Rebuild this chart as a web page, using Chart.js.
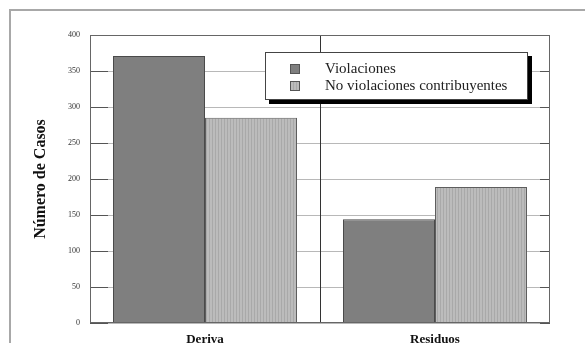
<!DOCTYPE html>
<html>
<head>
<meta charset="utf-8">
<script src="https://cdn.jsdelivr.net/npm/chart.js@4"></script>
<style>
  html, body { margin: 0; padding: 0; background: #fff; }
  #wrap { width: 585px; height: 343px; position: relative; }
</style>
</head>
<body>
<div id="wrap"><canvas id="c" width="585" height="343"></canvas></div>
<script>
// Categories and series
const categories = ['Deriva', 'Residuos'];
const violaciones = [371, 144];
const noViolaciones = [285, 189];
const seriesNames = ['Violaciones', 'No violaciones contribuyentes'];
const yTicks = [0, 50, 100, 150, 200, 250, 300, 350, 400];

const SERIF = '"Liberation Serif", "Times New Roman", serif';

// Light bar fill: fine vertical stripes
function stripePattern() {
  const p = document.createElement('canvas');
  p.width = 3; p.height = 4;
  const g = p.getContext('2d');
  g.fillStyle = '#bcbcbc'; g.fillRect(0, 0, 3, 4);
  g.fillStyle = '#a9a9a9'; g.fillRect(2, 0, 1, 4);
  return g.createPattern(p, 'repeat');
}
const ctx0 = document.getElementById('c').getContext('2d');
const lightFill = stripePattern();

// Outer frame, inner tick marks, middle divider and boxed legend
const decor = {
  id: 'decor',
  beforeDraw(chart) {
    const g = chart.ctx;
    g.save();
    g.strokeStyle = '#a8a8a8';
    g.lineWidth = 2;
    g.beginPath();
    g.moveTo(10, 343); g.lineTo(10, 10); g.lineTo(585, 10);
    g.stroke();
    g.restore();
  },
  afterDatasetsDraw(chart) {
    const g = chart.ctx;
    const a = chart.chartArea;
    const y = chart.scales.y;
    const x = chart.scales.x;
    g.save();
    // tick marks on both sides, pointing inward
    g.strokeStyle = '#555';
    g.lineWidth = 1;
    yTicks.forEach(v => {
      const py = Math.round(y.getPixelForValue(v)) + 0.5;
      g.beginPath();
      g.moveTo(a.left, py); g.lineTo(a.left + 18, py);
      g.moveTo(a.right - 10, py); g.lineTo(a.right, py);
      g.stroke();
    });
    // divider between categories
    const mid = Math.round((x.getPixelForValue(0) + x.getPixelForValue(1)) / 2) + 0.5;
    g.strokeStyle = '#333';
    g.beginPath(); g.moveTo(mid, a.top); g.lineTo(mid, a.bottom); g.stroke();
    // plot frame
    g.strokeStyle = '#666';
    g.strokeRect(a.left + 0.5, a.top + 0.5, a.right - a.left - 1, a.bottom - a.top - 1);

    // legend box with drop shadow
    const bx = 265, by = 52, bw = 263, bh = 48;
    g.fillStyle = '#000';
    g.fillRect(bx + 4, by + 4, bw, bh);
    g.fillStyle = '#fff';
    g.fillRect(bx, by, bw, bh);
    g.strokeStyle = '#444';
    g.strokeRect(bx + 0.5, by + 0.5, bw - 1, bh - 1);
    g.font = '15px ' + SERIF;
    g.textBaseline = 'middle';
    g.textAlign = 'left';
    chart.data.datasets.forEach((ds, i) => {
      const ly = by + 17 + i * 17;
      g.fillStyle = ds.backgroundColor;
      g.fillRect(bx + 25, ly - 5, 10, 10);
      g.strokeStyle = '#555';
      g.strokeRect(bx + 25.5, ly - 4.5, 9, 9);
      g.fillStyle = '#222';
      g.fillText(ds.label, bx + 60, ly);
    });
    g.restore();
  }
};

new Chart(ctx0, {
  type: 'bar',
  data: {
    labels: categories,
    datasets: [
      { label: seriesNames[0], data: violaciones, backgroundColor: '#7f7f7f',
        borderColor: '#4a4a4a', borderWidth: 1 },
      { label: seriesNames[1], data: noViolaciones, backgroundColor: lightFill,
        borderColor: '#5e5e5e', borderWidth: 1 }
    ]
  },
  options: {
    responsive: false,
    animation: false,
    layout: { padding: { left: 0, right: 35, top: 35, bottom: 0 } },
    plugins: { legend: { display: false }, tooltip: { enabled: false } },
    datasets: { bar: { categoryPercentage: 0.8, barPercentage: 1.0 } },
    scales: {
      x: {
        grid: { display: false, drawTicks: false },
        border: { display: false },
        ticks: { color: '#111', font: { family: SERIF, size: 13, weight: 'bold' }, padding: 9 },
        afterFit(s) { s.height = 20; }
      },
      y: {
        min: 0, max: 400,
        afterBuildTicks(s) { s.ticks = yTicks.map(v => ({ value: v })); },
        grid: { color: '#b8b8b8', drawTicks: false },
        border: { display: false },
        ticks: { color: '#333', font: { family: SERIF, size: 8 }, padding: 10 },
        title: { display: true, text: 'Número de Casos', color: '#111',
                 font: { family: SERIF, size: 16, weight: 'bold' }, padding: { top: 31, bottom: 0 } },
        afterFit(s) { s.width = 90; }
      }
    }
  },
  plugins: [decor]
});
</script>
</body>
</html>
